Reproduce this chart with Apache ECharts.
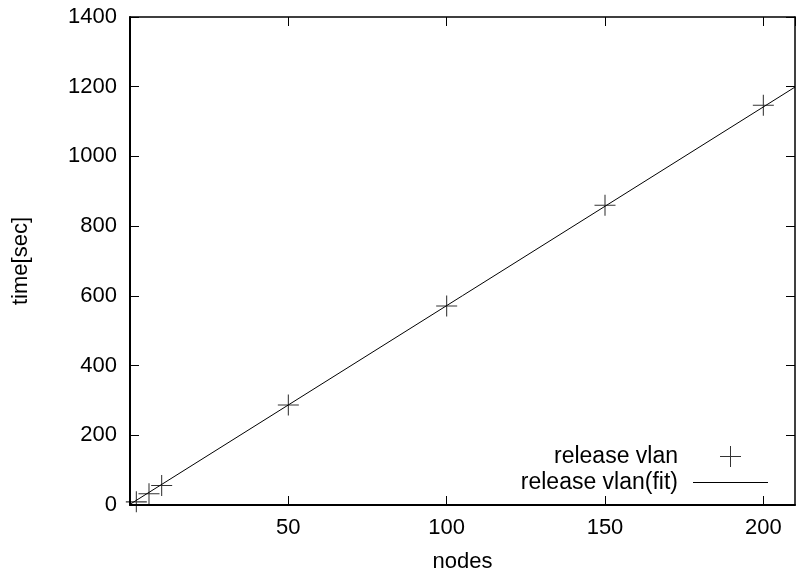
<!DOCTYPE html>
<html>
<head>
<meta charset="utf-8">
<script src="https://cdn.jsdelivr.net/npm/echarts@6/dist/echarts.min.js"></script>
<style>
  html, body { margin: 0; padding: 0; background: #fff; }
  #chart { width: 796px; height: 578px; }
</style>
</head>
<body>
<div id="chart"></div>
<script>
// 数据
var nodes = [2, 6, 10, 50, 100, 150, 200];
var times = [9, 32, 56, 287, 571, 860, 1147];
// 拟合直线的两端
var fitNodes = [0, 210];
var fitTimes = [2, 1199];
var xTicks = [0, 50, 100, 150, 200];
var yTicks = [0, 200, 400, 600, 800, 1000, 1200, 1400];

var font = "'Liberation Sans', Arial, sans-serif";
var plus = 'path://M0,9.5H20V10.5H0ZM9.5,0H10.5V20H9.5Z';
// 图例图标: 75x21 的框, 角上放空点以保持宽度
var plusIcon = 'path://M0,0L0,0M75,21L75,21M27,10H48V11H27ZM37,0H38V21H37Z';
var lineIcon = 'path://M0,0L0,0M75,21L75,21M0,10H75V11H0Z';

var myChart = echarts.init(document.getElementById('chart'));
var option = {
    animation: false,
    backgroundColor: '#fff',
    grid: { left: 130, right: 1, top: 17, bottom: 73 },
    legend: [
        {
            data: [{ name: 'release vlan', icon: plusIcon }],
            right: 23, top: 440, align: 'right',
            itemWidth: 75, itemHeight: 21,
            textStyle: { fontFamily: font, fontSize: 23, color: '#000', padding: [0, 10, 0, 0] }
        },
        {
            data: [{ name: 'release vlan(fit)', icon: lineIcon }],
            right: 23, top: 466, align: 'right',
            itemWidth: 75, itemHeight: 21,
            textStyle: { fontFamily: font, fontSize: 23, color: '#000', padding: [0, 10, 0, 0] }
        }
    ],
    xAxis: [
        {
            type: 'value', min: xTicks[0], max: 210, interval: 50,
            name: 'nodes', nameLocation: 'middle', nameGap: 46,
            nameTextStyle: { fontFamily: font, fontSize: 22, color: '#000' },
            axisLine: { onZero: false, lineStyle: { color: '#000', width: 2 } },
            axisTick: { inside: true, length: 9, lineStyle: { color: '#000' } },
            axisLabel: { fontFamily: font, fontSize: 22, color: '#000', margin: 12,
                         showMinLabel: false, showMaxLabel: false },
            splitLine: { show: false }
        },
        {
            type: 'value', position: 'top', min: xTicks[0], max: 210, interval: 50,
            axisLine: { onZero: false, lineStyle: { color: '#000', width: 1.5 } },
            axisTick: { inside: true, length: 9, lineStyle: { color: '#000' } },
            axisLabel: { show: false },
            splitLine: { show: false }
        }
    ],
    yAxis: [
        {
            type: 'value', min: yTicks[0], max: yTicks[yTicks.length - 1], interval: 200,
            name: 'time[sec]', nameLocation: 'middle', nameGap: 98,
            nameTextStyle: { fontFamily: font, fontSize: 22, color: '#000' },
            axisLine: { show: true, onZero: false, lineStyle: { color: '#000', width: 2 } },
            axisTick: { show: true, inside: true, length: 9, lineStyle: { color: '#000' } },
            axisLabel: { fontFamily: font, fontSize: 22, color: '#000', margin: 13,
                         formatter: function (v) { return String(v); } },
            splitLine: { show: false }
        },
        {
            type: 'value', position: 'right', min: yTicks[0], max: yTicks[yTicks.length - 1], interval: 200,
            axisLine: { show: true, onZero: false, lineStyle: { color: '#000', width: 1.5 } },
            axisTick: { show: true, inside: true, length: 9, lineStyle: { color: '#000' } },
            axisLabel: { show: false },
            splitLine: { show: false }
        }
    ],
    series: [
        {
            name: 'release vlan(fit)',
            type: 'line',
            symbol: 'none',
            lineStyle: { color: '#000', width: 1 },
            itemStyle: { color: '#000' },
            data: fitNodes.map(function (x, i) { return [x, fitTimes[i]]; })
        },
        {
            name: 'release vlan',
            type: 'scatter',
            symbol: plus,
            symbolSize: 21,
            itemStyle: { color: '#000' },
            data: nodes.map(function (x, i) { return [x, times[i]]; })
        }
    ]
};
myChart.setOption(option);
</script>
</body>
</html>
